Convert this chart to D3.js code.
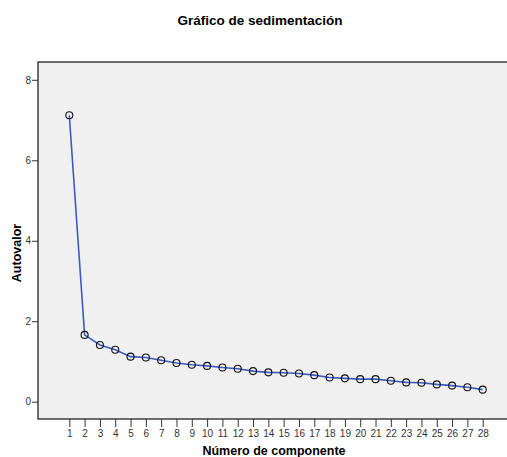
<!DOCTYPE html>
<html>
<head>
<meta charset="utf-8">
<script src="https://cdn.jsdelivr.net/npm/d3@7"></script>
<style>
  body { margin: 0; background: #fff; }
  svg { display: block; font-family: "Liberation Sans", Arial, sans-serif; }
</style>
</head>
<body>
<div id="chart-area"></div>
<script>
// componentes y autovalores
var components = d3.range(1, 29);
var eigenvalues = [7.12, 1.66, 1.41, 1.29, 1.12, 1.10, 1.03, 0.96, 0.92, 0.89,
                   0.85, 0.82, 0.76, 0.73, 0.72, 0.70, 0.66, 0.60, 0.58, 0.56,
                   0.56, 0.52, 0.48, 0.47, 0.43, 0.40, 0.36, 0.30];
var yTicks = [0, 2, 4, 6, 8];

var W = 507, H = 457;
var plot = {left: 38, top: 62, right: 515, bottom: 419};

var svg = d3.select("#chart-area")
    .append("svg")
    .attr("width", W)
    .attr("height", H);

// background of plot area
svg.append("rect")
    .attr("x", plot.left)
    .attr("y", plot.top)
    .attr("width", plot.right - plot.left)
    .attr("height", plot.bottom - plot.top)
    .attr("fill", "#f0f0f0")
    .attr("stroke", "#222")
    .attr("stroke-width", 1.3);

var x = d3.scaleLinear()
    .domain([1, 28])
    .range([69.3, 482.7]);

var y = d3.scaleLinear()
    .domain([0, 8])
    .range([401.7, 79.8]);

// title
svg.append("text")
    .attr("x", 260)
    .attr("y", 25)
    .attr("text-anchor", "middle")
    .style("font-size", "13.5px")
    .style("font-weight", "bold")
    .text("Gráfico de sedimentación");

// x axis
var xAxis = svg.append("g")
    .attr("transform", "translate(0," + plot.bottom + ")")
    .call(d3.axisBottom(x).tickValues(components).tickFormat(d3.format("d")).tickSize(8).tickSizeOuter(0));
xAxis.select(".domain").remove();
xAxis.selectAll("line").attr("stroke", "#333");
xAxis.selectAll("text")
    .attr("y", 11)
    .attr("fill", "#333")
    .style("font-size", "10px")
    .style("font-family", "\"Liberation Sans\", Arial, sans-serif");

// y axis
var yAxis = svg.append("g")
    .attr("transform", "translate(" + plot.left + ",0)")
    .call(d3.axisLeft(y).tickValues(yTicks).tickSize(6).tickSizeOuter(0));
yAxis.select(".domain").remove();
yAxis.selectAll("line").attr("stroke", "#333");
yAxis.selectAll("text")
    .attr("x", -7)
    .attr("fill", "#333")
    .style("font-size", "10px")
    .style("font-family", "\"Liberation Sans\", Arial, sans-serif");

// axis labels
svg.append("text")
    .attr("x", 274)
    .attr("y", 455)
    .attr("text-anchor", "middle")
    .style("font-size", "12.5px")
    .style("font-weight", "bold")
    .text("Número de componente");

svg.append("text")
    .attr("transform", "rotate(-90)")
    .attr("x", -253)
    .attr("y", 21)
    .attr("text-anchor", "middle")
    .style("font-size", "12.5px")
    .style("font-weight", "bold")
    .text("Autovalor");

// line
var line = d3.line()
    .x(function (d, i) { return x(components[i]); })
    .y(function (d) { return y(d); });

svg.append("path")
    .datum(eigenvalues)
    .attr("d", line)
    .attr("fill", "none")
    .attr("stroke", "#3b5bbf")
    .attr("stroke-width", 1.6);

// points
svg.selectAll("circle.pt")
    .data(eigenvalues)
    .enter()
    .append("circle")
    .attr("class", "pt")
    .attr("cx", function (d, i) { return x(components[i]); })
    .attr("cy", function (d) { return y(d); })
    .attr("r", 3.5)
    .attr("fill", "none")
    .attr("stroke", "#111")
    .attr("stroke-width", 1.1);
</script>
</body>
</html>
